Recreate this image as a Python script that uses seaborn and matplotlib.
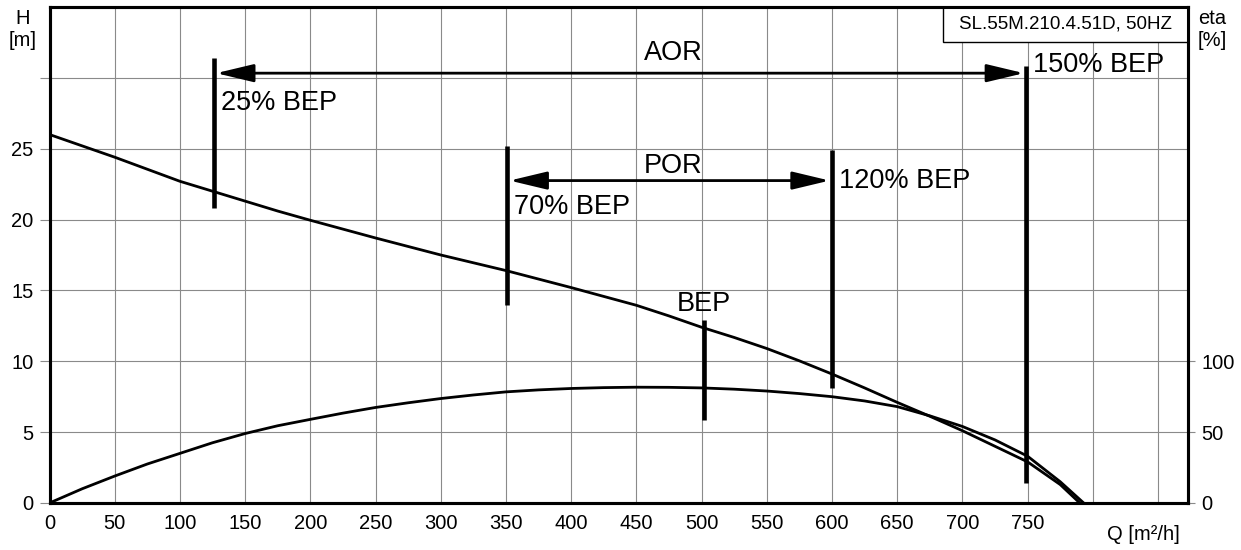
import matplotlib
matplotlib.use("Agg")
import matplotlib.pyplot as plt
import matplotlib.transforms as mtransforms
from matplotlib.patches import Rectangle
import pandas as pd
import seaborn as sns

# Curva H-Q (altura)
q_head = [0, 25, 50, 75, 100, 125, 150, 175, 200, 250, 300, 350, 400,
          450, 475, 500, 525, 550, 575, 600, 625, 650, 675, 700, 725, 750,
          775, 790]
head = [26.0, 25.2, 24.4, 23.55, 22.7, 22.0, 21.3, 20.6, 19.95, 18.7, 17.5,
        16.4, 15.2, 13.95, 13.2, 12.4, 11.68, 10.9, 10.03, 9.1, 8.12, 7.1,
        6.12, 5.1, 4.0, 2.9, 1.3, 0.0]

# Curva de rendimiento (eta %)
q_eta = [0, 25, 50, 75, 100, 125, 150, 175, 200, 225, 250, 275, 300, 325,
         350, 375, 400, 425, 450, 475, 500, 525, 550, 575, 600, 625, 650,
         675, 700, 725, 750, 775, 793]
eta = [0, 10, 19, 27.5, 35, 42.5, 49, 54.5, 59, 63.4, 67.4, 70.7, 73.7, 76.2,
       78.4, 79.8, 80.8, 81.4, 81.7, 81.6, 81.2, 80.3, 79, 77.2, 75, 72, 68,
       61.5, 54, 44.5, 33, 15, 0]

# Marcas de BEP
bep_labels = ["25% BEP", "70% BEP", "BEP", "120% BEP", "150% BEP"]
bep_q = [126, 351, 502, 600, 749]
bep_low = [20.8, 14.0, 5.85, 8.1, 1.4]
bep_high = [31.4, 25.2, 12.9, 24.9, 30.85]
bep_text_h = [27.7, 20.4, 13.55, 22.2, 30.4]

# Rangos AOR / POR
range_labels = ["AOR", "POR"]
range_from = [126, 351]
range_to = [749, 600]
range_h = [30.33, 22.75]
range_text_h = [31.25, 23.27]

x_ticks = list(range(0, 800, 50))
x_grid = list(range(50, 900, 50))
h_ticks = [0, 5, 10, 15, 20, 25, 30]
h_tick_labels = ["0", "5", "10", "15", "20", "25", ""]
eta_ticks = [0, 50, 100]
model_name = "SL.55M.210.4.51D, 50HZ"

sns.set_style("white")
plt.rcParams["font.family"] = ["Liberation Sans", "DejaVu Sans"]
plt.rcParams["text.color"] = "black"

fig = plt.figure(figsize=(12.41, 5.5), dpi=100)
ax = fig.add_axes([0.0399, 0.0855, 0.9174, 0.9018])
ax2 = ax.twinx()

df_h = pd.DataFrame({"Q": q_head, "H": head})
df_e = pd.DataFrame({"Q": q_eta, "eta": eta})
sns.lineplot(data=df_h, x="Q", y="H", ax=ax, color="black", lw=2, zorder=4)
sns.lineplot(data=df_e, x="Q", y="eta", ax=ax2, color="black", lw=2, zorder=4)

ax.set_xlim(0, 873)
ax.set_ylim(0, 35)
ax2.set_ylim(0, 350)

grid_kw = dict(color="#8a8a8a", lw=0.8, zorder=1)
for g in x_grid:
    ax.axvline(g, **grid_kw)
for g in h_ticks[1:]:
    ax.axhline(g, **grid_kw)

ax.set_xticks(x_ticks)
ax.set_xticklabels([str(t) for t in x_ticks])
ax.set_yticks(h_ticks)
ax.set_yticklabels(h_tick_labels)
ax2.set_yticks(eta_ticks)
ax2.set_yticklabels([str(t) for t in eta_ticks])
ax.set_xlabel("")
ax.set_ylabel("")
ax2.set_ylabel("")

ax.tick_params(axis="x", length=0, pad=8, labelsize=14.5, labelcolor="black")
ax.tick_params(axis="y", direction="out", length=7, width=0.8, color="#8a8a8a",
               pad=4.5, labelsize=14.5, left=True, labelcolor="black")
ax2.tick_params(axis="y", direction="out", length=5, width=0.8, color="#8a8a8a",
                pad=4.5, labelsize=14.5, right=True, labelcolor="black")

for a in (ax, ax2):
    for s in a.spines.values():
        s.set_color("black")
        s.set_linewidth(2.2)
        s.set_visible(True)

# Barras verticales de BEP
ax.vlines(bep_q, bep_low, bep_high, color="black", lw=3.3, zorder=5,
          capstyle="butt")
for lab, q, th in zip(bep_labels, bep_q, bep_text_h):
    if lab == "BEP":
        ax.text(q, th, lab, ha="center", va="baseline", fontsize=19.5, zorder=6)
    else:
        ax.annotate(lab, xy=(q, th), xytext=(5, 0), textcoords="offset points",
                    ha="left", va="baseline", fontsize=19.5, zorder=6)

# Flechas de rango
for lab, q0, q1, h, th in zip(range_labels, range_from, range_to, range_h, range_text_h):
    ax.annotate("", xy=(q1 - 1.8, h), xytext=(q0 + 1.8, h),
                arrowprops=dict(arrowstyle="<|-|>,head_length=2.3,head_width=0.55",
                                mutation_scale=10, color="black", lw=2,
                                shrinkA=0, shrinkB=0), zorder=6)
    ax.text(478, th, lab, ha="center", va="baseline", fontsize=19.5, zorder=6)

# Recuadro con el modelo
ax.add_patch(Rectangle((685, 32.55), 873 - 685, 35 - 32.55, facecolor="white",
                       edgecolor="black", lw=1.0, zorder=7))
ax.text((685 + 873) / 2, 33.8, model_name, ha="center", va="center",
        fontsize=13.5, zorder=8)

trans = mtransforms.blended_transform_factory(ax.transData, ax.transAxes)
ax.text(839, -0.045, "Q [m²/h]", transform=trans, ha="center", va="top",
        fontsize=14.5)

# Etiquetas de ejes arriba
fig.text(23 / 1241, 1 - 19 / 550, "H", ha="center", va="center", fontsize=14.5)
fig.text(23 / 1241, 1 - 41 / 550, "[m]", ha="center", va="center", fontsize=14.5)
fig.text(1212 / 1241, 1 - 18 / 550, "eta", ha="center", va="center", fontsize=14.5)
fig.text(1212 / 1241, 1 - 41 / 550, "[%]", ha="center", va="center", fontsize=14.5)

fig.savefig("out.png", dpi=100)
